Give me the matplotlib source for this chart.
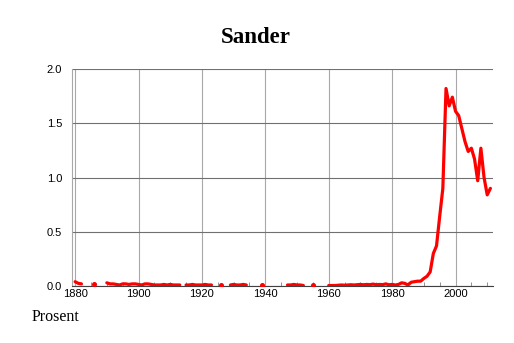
import numpy as np
import matplotlib
matplotlib.use("Agg")
import matplotlib.pyplot as plt
from matplotlib.ticker import MultipleLocator

# share of men named Sander, per year (NaN = no data)
years = np.arange(1880, 2012)
nan = np.nan
share = [
    0.04, 0.025, 0.02, nan, nan, nan, 0.02, nan, nan, nan,            # 1880-1889
    0.03, 0.02, 0.02, 0.015, 0.01, 0.02, 0.02, 0.015, 0.02, 0.02,     # 1890-1899
    0.015, 0.01, 0.02, 0.02, 0.015, 0.01, 0.01, 0.01, 0.015, 0.01,    # 1900-1909
    0.015, 0.01, 0.01, 0.01, nan, 0.01, 0.01, 0.015, 0.01, 0.01,      # 1910-1919
    0.01, 0.015, 0.01, 0.01, nan, nan, 0.01, nan, nan, 0.01,          # 1920-1929
    0.015, 0.01, 0.01, 0.015, 0.01, nan, nan, nan, nan, 0.01,         # 1930-1939
    nan, nan, nan, nan, nan, nan, nan, 0.01, 0.01, 0.015,             # 1940-1949
    0.01, 0.01, 0.005, nan, nan, 0.01, nan, nan, nan, nan,            # 1950-1959
    0.005, 0.005, 0.005, 0.008, 0.01, 0.008, 0.01, 0.012, 0.01, 0.012,  # 1960-1969
    0.015, 0.012, 0.015, 0.013, 0.018, 0.012, 0.015, 0.013, 0.02, 0.012,  # 1970-1979
    0.015, 0.01, 0.015, 0.03, 0.025, 0.01, 0.035, 0.04, 0.045, 0.045,     # 1980-1989
    0.07, 0.09, 0.13, 0.30, 0.37, 0.64, 0.90, 1.82, 1.66, 1.74,           # 1990-1999
    1.61, 1.57, 1.45, 1.33, 1.24, 1.27, 1.17, 0.97, 1.27, 1.00,           # 2000-2009
    0.84, 0.90,                                                           # 2010-2011
]

title = "Sander"
ylabel_text = "Prosent"

share = np.array(share, dtype=float)
# years with data but no neighbours: a line can't show them, so mark them
prev_nan = np.r_[True, np.isnan(share[:-1])]
next_nan = np.r_[np.isnan(share[1:]), True]
lone = ~np.isnan(share) & prev_nan & next_nan

fig = plt.figure(figsize=(5.14, 3.43), dpi=100)
ax = fig.add_axes([0.140, 0.166, 0.819, 0.633])

ax.plot(years, share, color="red", lw=2.3, solid_joinstyle="round",
        solid_capstyle="round", zorder=3)
ax.plot(years[lone], share[lone], "o", color="red", ms=2.6, zorder=3)

ax.set_xlim(1879, 2011.8)
ax.set_ylim(0, 2.0)
ax.xaxis.set_major_locator(MultipleLocator(20))
ax.xaxis.set_minor_locator(MultipleLocator(5))
ax.yaxis.set_major_locator(MultipleLocator(0.5))
ax.yaxis.set_major_formatter(matplotlib.ticker.FormatStrFormatter("%.1f"))

ax.grid(axis="x", which="major", color="#a8a8a8", lw=0.8)
ax.grid(axis="y", which="major", color="#707070", lw=0.8)

for s in ["top", "right"]:
    ax.spines[s].set_visible(False)
ax.spines["left"].set_color("#a8a8a8")
ax.spines["left"].set_linewidth(0.8)
ax.spines["bottom"].set_color("#404040")
ax.spines["bottom"].set_linewidth(0.8)

ax.tick_params(axis="y", length=0, pad=7, labelsize=8)
ax.tick_params(axis="x", which="major", direction="in", length=0, pad=2, labelsize=8)
ax.tick_params(axis="x", which="minor", direction="in", length=3, color="#808080")
for lab in ax.get_xticklabels() + ax.get_yticklabels():
    lab.set_family("Liberation Sans")

fig.text(0.498, 0.875, title, ha="center", va="baseline",
         fontsize=16.5, fontweight="bold", family="Liberation Serif")
fig.text(0.062, 0.063, ylabel_text, ha="left", va="baseline",
         fontsize=11.5, family="Liberation Serif")

fig.savefig("out.png", dpi=100)
